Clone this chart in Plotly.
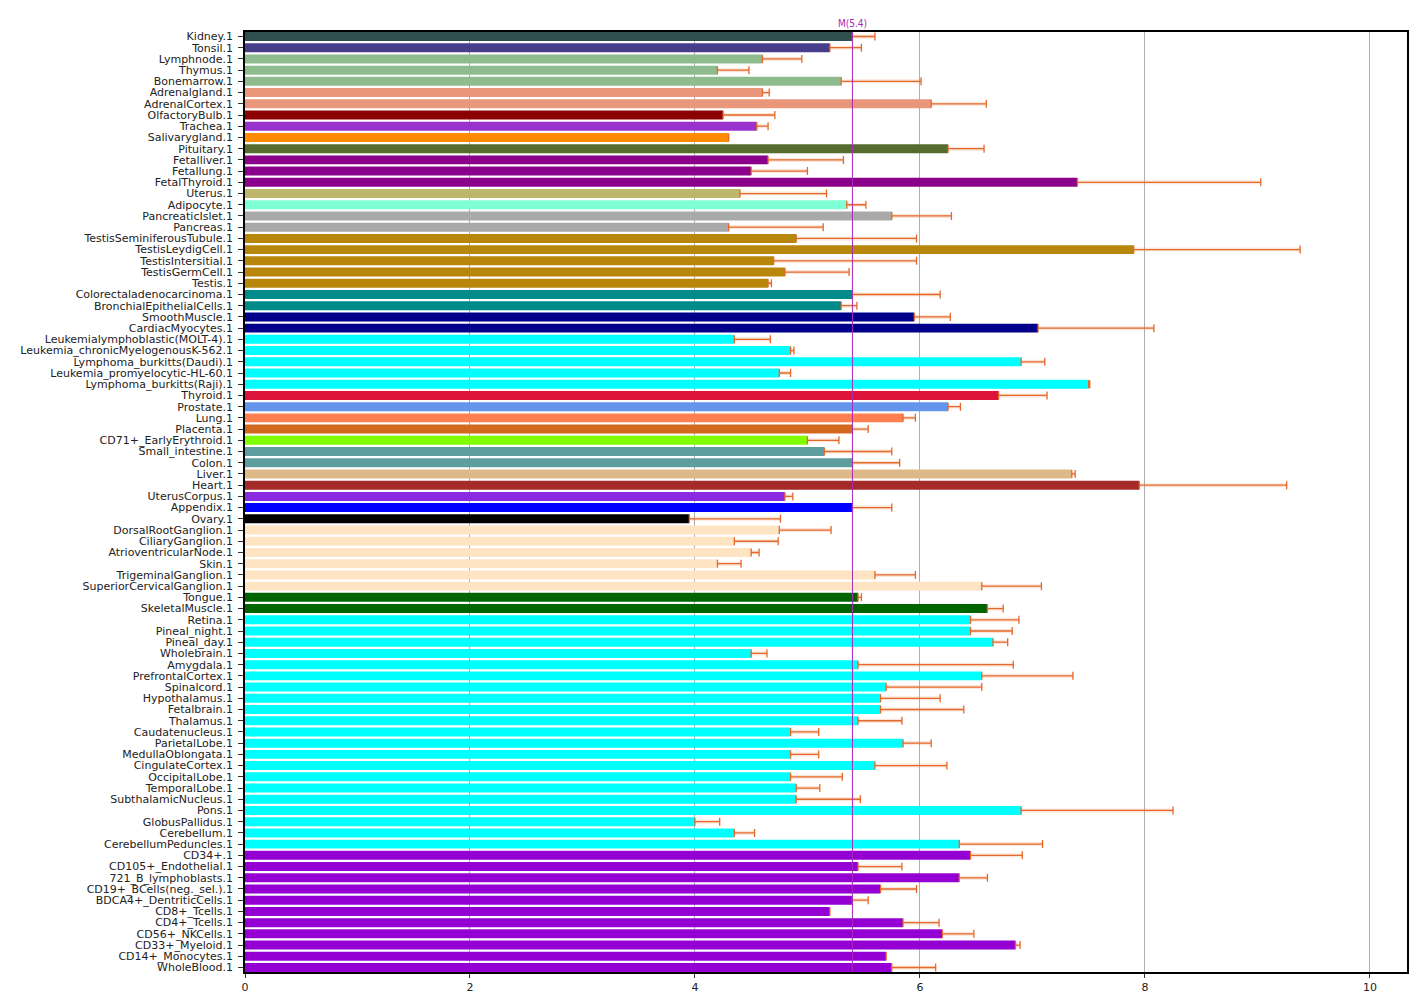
import plotly.graph_objects as go

tissues = [
    "Kidney.1", "Tonsil.1", "Lymphnode.1", "Thymus.1", "Bonemarrow.1", "Adrenalgland.1",
    "AdrenalCortex.1", "OlfactoryBulb.1", "Trachea.1", "Salivarygland.1", "Pituitary.1",
    "Fetalliver.1", "Fetallung.1", "FetalThyroid.1", "Uterus.1", "Adipocyte.1",
    "PancreaticIslet.1", "Pancreas.1", "TestisSeminiferousTubule.1", "TestisLeydigCell.1",
    "TestisIntersitial.1", "TestisGermCell.1", "Testis.1", "Colorectaladenocarcinoma.1",
    "BronchialEpithelialCells.1", "SmoothMuscle.1", "CardiacMyocytes.1",
    "Leukemialymphoblastic(MOLT-4).1", "Leukemia_chronicMyelogenousK-562.1",
    "Lymphoma_burkitts(Daudi).1", "Leukemia_promyelocytic-HL-60.1", "Lymphoma_burkitts(Raji).1",
    "Thyroid.1", "Prostate.1", "Lung.1", "Placenta.1", "CD71+_EarlyErythroid.1",
    "Small_intestine.1", "Colon.1", "Liver.1", "Heart.1", "UterusCorpus.1", "Appendix.1",
    "Ovary.1", "DorsalRootGanglion.1", "CiliaryGanglion.1", "AtrioventricularNode.1", "Skin.1",
    "TrigeminalGanglion.1", "SuperiorCervicalGanglion.1", "Tongue.1", "SkeletalMuscle.1",
    "Retina.1", "Pineal_night.1", "Pineal_day.1", "Wholebrain.1", "Amygdala.1",
    "PrefrontalCortex.1", "Spinalcord.1", "Hypothalamus.1", "Fetalbrain.1", "Thalamus.1",
    "Caudatenucleus.1", "ParietalLobe.1", "MedullaOblongata.1", "CingulateCortex.1",
    "OccipitalLobe.1", "TemporalLobe.1", "SubthalamicNucleus.1", "Pons.1", "GlobusPallidus.1",
    "Cerebellum.1", "CerebellumPeduncles.1", "CD34+.1", "CD105+_Endothelial.1",
    "721_B_lymphoblasts.1", "CD19+_BCells(neg._sel.).1", "BDCA4+_DentriticCells.1",
    "CD8+_Tcells.1", "CD4+_Tcells.1", "CD56+_NKCells.1", "CD33+_Myeloid.1",
    "CD14+_Monocytes.1", "WholeBlood.1",
]

values = [
    5.40, 5.20, 4.60, 4.20, 5.30, 4.60,
    6.10, 4.25, 4.55, 4.30, 6.25,
    4.65, 4.50, 7.40, 4.40, 5.35,
    5.75, 4.30, 4.90, 7.90,
    4.70, 4.80, 4.65, 5.40,
    5.30, 5.95, 7.05,
    4.35, 4.85,
    6.90, 4.75, 7.50,
    6.70, 6.25, 5.85, 5.40, 5.00,
    5.15, 5.40, 7.35, 7.95, 4.80, 5.40,
    3.95, 4.75, 4.35, 4.50, 4.20,
    5.60, 6.55, 5.45, 6.60,
    6.45, 6.45, 6.65, 4.50, 5.45,
    6.55, 5.70, 5.65, 5.65, 5.45,
    4.85, 5.85, 4.85, 5.60,
    4.85, 4.90, 4.90, 6.90, 4.00,
    4.35, 6.35, 6.45, 5.45,
    6.35, 5.65, 5.40,
    5.20, 5.85, 6.20, 6.85,
    5.70, 5.75,
]

err_upper = [
    5.60, 5.48, 4.95, 4.48, 6.01, 4.66,
    6.59, 4.71, 4.65, 4.30, 6.57,
    5.32, 5.00, 9.03, 5.17, 5.52,
    6.28, 5.14, 5.97, 9.38,
    5.97, 5.37, 4.68, 6.18,
    5.44, 6.27, 8.08,
    4.67, 4.88,
    7.11, 4.85, 7.51,
    7.13, 6.36, 5.96, 5.54, 5.28,
    5.75, 5.82, 7.38, 9.26, 4.87, 5.75,
    4.76, 5.21, 4.74, 4.57, 4.41,
    5.96, 7.08, 5.48, 6.74,
    6.88, 6.82, 6.78, 4.64, 6.83,
    7.36, 6.55, 6.18, 6.39, 5.84,
    5.10, 6.10, 5.10, 6.24,
    5.31, 5.11, 5.47, 8.25, 4.22,
    4.53, 7.09, 6.91, 5.84,
    6.60, 5.97, 5.54,
    5.20, 6.17, 6.48, 6.89,
    5.70, 6.14,
]

bar_colors = (
    ["#2F4F4F", "#483D8B"] + ["#8FBC8F"] * 3 + ["#E9967A"] * 2 +
    ["#8B0000", "#9932CC", "#FF8C00", "#556B2F"] + ["#8B008B"] * 3 +
    ["#BDB76B", "#7FFFD4"] + ["#A9A9A9"] * 2 + ["#B8860B"] * 5 +
    ["#008B8B"] * 2 + ["#00008B"] * 2 + ["#00FFFF"] * 5 +
    ["#DC143C", "#6495ED", "#FF7F50", "#D2691E", "#7FFF00"] + ["#5F9EA0"] * 2 +
    ["#DEB887", "#A52A2A", "#8A2BE2", "#0000FF", "#000000"] + ["#FFE4C4"] * 6 +
    ["#006400"] * 2 + ["#00FFFF"] * 21 + ["#9400D3"] * 11
)

median_value = 5.4
median_label = "M(5.4)"
x_ticks = [0, 2, 4, 6, 8, 10]

err_plus = [max(u - v, 0.0) for u, v in zip(err_upper, values)]
zeros = [0.0] * len(values)

fig = go.Figure()
# soft halo under the error bars
fig.add_trace(go.Scatter(
    x=values, y=tissues, mode="markers", marker=dict(opacity=0),
    error_x=dict(type="data", symmetric=False, array=err_plus, arrayminus=zeros,
                 color="rgba(232,112,42,0.18)", thickness=4, width=0),
    hoverinfo="skip", showlegend=False,
))
fig.add_trace(go.Bar(
    x=values, y=tissues, orientation="h", width=0.8,
    marker=dict(color=bar_colors, line=dict(width=0)),
    error_x=dict(type="data", symmetric=False, array=err_plus, arrayminus=zeros,
                 color="#E3692B", thickness=1.3, width=4),
    showlegend=False,
))

fig.add_shape(type="line", x0=median_value, x1=median_value, xref="x",
              y0=0, y1=1, yref="paper", line=dict(color="#A828B8", width=1))
fig.add_annotation(x=median_value, y=1, xref="x", yref="paper", text=median_label,
                   showarrow=False, yanchor="bottom", yshift=1,
                   font=dict(family="DejaVu Sans Condensed, DejaVu Sans", size=10, color="#A828B8"))

fig.update_layout(
    width=1426, height=1008,
    margin=dict(l=245, r=19, t=32, b=36),
    paper_bgcolor="white", plot_bgcolor="white",
    font=dict(family="DejaVu Sans", size=11, color="#222"),
    bargap=0.2,
)
fig.update_xaxes(
    range=[0, 10.33], tickvals=x_ticks, showgrid=True, gridcolor="#b0b0b0", gridwidth=1,
    zeroline=False, showline=True, linecolor="black", linewidth=1.5, mirror=True,
    ticks="outside", ticklen=4, tickcolor="#333", tickfont=dict(size=11),
)
fig.update_yaxes(
    autorange=False, range=[83.4, -0.4], categoryorder="array", categoryarray=tissues,
    showgrid=False, zeroline=False, showline=True, linecolor="black", linewidth=1.5,
    mirror=True, ticks="outside", ticklen=5, tickcolor="#333", tickfont=dict(size=11),
    ticklabelstandoff=3, dtick=1,
)

fig.write_html("out.html")
